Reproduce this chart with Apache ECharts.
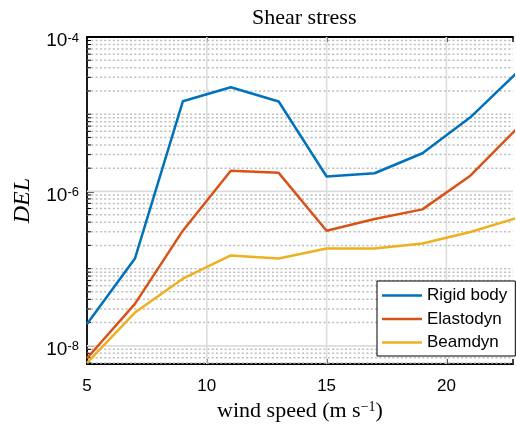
<!DOCTYPE html>
<html>
<head>
<meta charset="utf-8">
<script src="https://cdn.jsdelivr.net/npm/echarts@6/dist/echarts.min.js"></script>
<style>
  html, body { margin: 0; padding: 0; background: #fff; }
  #chart { width: 516px; height: 427px; }
</style>
</head>
<body>
<div id="chart"></div>
<script>
// Wind speeds (m/s) at which the damage-equivalent loads were evaluated
const windSpeed = [5, 7, 9, 11, 13, 15, 17, 19, 21, 23];

// Damage-equivalent shear stress for each structural model
const rigidBody = [1.92e-8, 1.35e-7, 1.47e-5, 2.23e-5, 1.46e-5, 1.56e-6, 1.72e-6, 3.12e-6, 9.1e-6, 3.6e-5];
const elastodyn = [6.9e-9, 3.5e-8, 3.1e-7, 1.85e-6, 1.74e-6, 3.1e-7, 4.4e-7, 5.85e-7, 1.6e-6, 6.8e-6];
const beamdyn   = [6.0e-9, 2.7e-8, 7.4e-8, 1.48e-7, 1.35e-7, 1.82e-7, 1.82e-7, 2.11e-7, 2.98e-7, 4.6e-7];

const seriesNames = ['Rigid body', 'Elastodyn', 'Beamdyn'];

// Axis ticks
const xTicks = [5, 10, 15, 20];
const yDecadeTicks = [-8, -6, -4];

const xMin = 5, xMax = 22.78;
const yMin = 5.8e-9, yMax = 1e-4;

// Grid lines: 0 = major horizontal, 1 = minor horizontal (dotted), 2 = major vertical
const gridRows = [];
for (let e = -9; e <= -5; e++) {
  for (let m = 1; m <= 9; m++) {
    const v = m * Math.pow(10, e);
    if (v < yMin || v > yMax * 0.999) continue;
    const isMajor = m === 1 && yDecadeTicks.indexOf(e) >= 0;
    gridRows.push([xMin, v, isMajor ? 0 : 1]);
  }
}
xTicks.forEach(function (x) { if (x > xMin) gridRows.push([x, 1e-6, 2]); });

function renderGrid(params, api) {
  const cs = params.coordSys;
  const kind = api.value(2);
  if (kind === 2) {
    const x = api.coord([api.value(0), 1e-6])[0];
    return { type: 'line', shape: { x1: x, y1: cs.y, x2: x, y2: cs.y + cs.height },
             style: { stroke: '#dcdcdc', lineWidth: 1.6 } };
  }
  const y = api.coord([xMin, api.value(1)])[1];
  if (kind === 0) {
    return { type: 'line', shape: { x1: cs.x, y1: y, x2: cs.x + cs.width, y2: y },
             style: { stroke: '#dcdcdc', lineWidth: 1.6 } };
  }
  return {
    type: 'group',
    children: [
      { type: 'line', shape: { x1: cs.x, y1: y, x2: cs.x + cs.width, y2: y },
        style: { stroke: '#bdbdbd', lineWidth: 1.5, lineDash: [2, 2.3] } },
      { type: 'line', shape: { x1: cs.x, y1: y, x2: cs.x + 4, y2: y },
        style: { stroke: '#000', lineWidth: 1 } }
    ]
  };
}

const colors = ['#0072BD', '#D95319', '#EDB120'];
const values = [rigidBody, elastodyn, beamdyn];

const lineSeries = seriesNames.map(function (name, i) {
  return {
    name: name,
    type: 'line',
    xAxisIndex: 0,
    yAxisIndex: 0,
    data: windSpeed.map(function (x, j) { return [x, values[i][j]]; }),
    symbol: 'none',
    lineStyle: { width: 2.5, color: colors[i] },
    itemStyle: { color: colors[i] },
    z: 3 + i,
    clip: true
  };
});

const chart = echarts.init(document.getElementById('chart'), null, { renderer: 'canvas' });
chart.setOption({
  animation: false,
  backgroundColor: '#fff',
  title: {
    text: 'Shear stress',
    left: 252,
    top: 7,
    padding: 0,
    textStyle: { fontFamily: 'Liberation Serif', fontSize: 22, fontWeight: 'normal', color: '#000' }
  },
  grid: { left: 87, right: 0, top: 37, bottom: 61, containLabel: false },
  legend: {
    orient: 'vertical',
    left: 377,
    top: 281,
    data: seriesNames,
    icon: 'rect',
    itemWidth: 40,
    itemHeight: 2.5,
    itemGap: 6.5,
    padding: [6, 8, 5, 5],
    backgroundColor: '#fff',
    borderColor: '#000',
    borderWidth: 1,
    borderRadius: 0,
    textStyle: { fontFamily: 'Liberation Sans', fontSize: 17, color: '#000' },
    z: 10
  },
  xAxis: [{
    type: 'value',
    min: xMin,
    max: xMax,
    interval: 5,
    name: 'wind speed (m s{sup|\u22121})',
    nameLocation: 'middle',
    nameGap: 33,
    nameTextStyle: {
      fontFamily: 'Liberation Serif', fontSize: 22, color: '#000', lineHeight: 22,
      rich: { sup: { fontFamily: 'Liberation Serif', fontSize: 14, verticalAlign: 'top', lineHeight: 14, color: '#000' } }
    },
    axisLine: { show: true, onZero: false, lineStyle: { color: '#000', width: 1.8 } },
    axisTick: { show: true, inside: true, length: 5, lineStyle: { color: '#000', width: 1.5 } },
    axisLabel: {
      margin: 14,
      fontFamily: 'Liberation Sans', fontSize: 17, color: '#000',
      formatter: function (v) { return xTicks.indexOf(v) >= 0 ? String(v) : ''; }
    },
    splitLine: { show: false }
  }, {
    type: 'value',
    position: 'top',
    min: xMin,
    max: xMax,
    interval: 5,
    axisLine: { show: true, onZero: false, lineStyle: { color: '#000', width: 1.8 } },
    axisTick: { show: true, inside: true, length: 5, lineStyle: { color: '#000', width: 1.5 } },
    axisLabel: { show: false },
    splitLine: { show: false }
  }],
  yAxis: {
    type: 'log',
    logBase: 100,
    min: yMin,
    max: yMax,
    splitNumber: 2,
    name: 'DEL',
    nameLocation: 'middle',
    nameGap: 52,
    nameTextStyle: { fontFamily: 'Liberation Serif', fontStyle: 'italic', fontSize: 24, color: '#000' },
    axisLine: { show: true, onZero: false, lineStyle: { color: '#000', width: 1.8 } },
    axisTick: { show: true, inside: true, length: 7, lineStyle: { color: '#000', width: 1.5 } },
    axisLabel: {
      margin: 8,
      color: '#000',
      formatter: function (v) {
        const e = Math.log10(v);
        const r = Math.round(e);
        if (Math.abs(e - r) > 1e-6 || yDecadeTicks.indexOf(r) < 0) return '';
        return '{b|10}{s|' + r + '}';
      },
      rich: {
        b: { fontFamily: 'Liberation Sans', fontSize: 19, lineHeight: 19, padding: [8, 0, 0, 0], color: '#000' },
        s: { fontFamily: 'Liberation Sans', fontSize: 13, lineHeight: 13, padding: [4, 0, 0, 0], verticalAlign: 'top', color: '#000' }
      }
    },
    splitLine: { show: false },
    minorTick: { show: false },
    minorSplitLine: { show: false }
  },
  series: [{
    name: 'grid',
    type: 'custom',
    xAxisIndex: 0,
    yAxisIndex: 0,
    data: gridRows,
    renderItem: renderGrid,
    silent: true,
    z: 1,
    clip: false
  }].concat(lineSeries)
});
</script>
</body>
</html>
